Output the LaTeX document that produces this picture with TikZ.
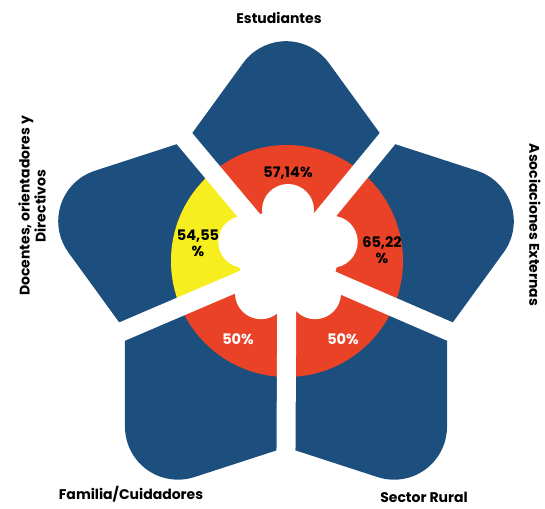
\documentclass[tikz,border=0pt]{standalone}
\usepackage{fontspec}
\setmainfont{Poppins}
\usetikzlibrary{calc}
\definecolor{petalblue}{RGB}{28,79,126}
\definecolor{ringred}{RGB}{233,66,39}
\definecolor{ringyel}{RGB}{246,238,30}
\begin{document}
\begin{tikzpicture}[x=1pt,y=1pt,
  lbl/.style={font=\bfseries\fontsize{14}{13}\selectfont, text=black, align=center, inner sep=0pt},
  pct/.style={font=\bfseries\fontsize{14.5}{16}\selectfont, align=center, inner sep=0pt},
  gap/.style={white, line width=19pt}]
\useasboundingbox (0,0) rectangle (545,508);
\coordinate (S) at (286,230);
\coordinate (O) at (287,247);
\coordinate (B) at (288,252);
\foreach \v in {54,126,198,270,342} \coordinate (V\v) at ($(S)+(\v:169.3)$);
% star of five petals
\fill[petalblue] (V54) \foreach \a in {90,162,234,306,378} {
  -- ($(S)+(\a:183.8)+(\a-54:53)$) arc[start angle=\a-54, end angle=\a+54, radius=53]
  -- ($(S)+(\a+36:169.3)$) } -- cycle;
% ring
\fill[ringred] (O) circle[radius=116];
\begin{scope}
  \clip (O) -- ($(O)!3!(V126)$) -- ($(O)!3!(V198)$) -- cycle;
  \fill[ringyel] (O) circle[radius=116];
\end{scope}
% gaps
\foreach \v in {54,126,198,270,342} \draw[gap] (O) -- ($(O)!1.25!(V\v)$);
% centre blob
\fill[white] (B) circle[radius=50];
\foreach \a in {90,162,234,306,18} \fill[white] ($(B)+(\a:46)$) circle[radius=26];
% percentages
\node[pct] (p1) at (288,335) {57,14\%};
\node[pct] (p2) at (198,265) {54,55\\\%};
\node[pct] (p3) at (382,258) {65,22\\\%};
\node[pct, text=white] (p4) at (238,169) {50\%};
\node[pct, text=white] (p5) at (343,169) {50\%};
% outer labels
\node[lbl] (l1) at (279,490) {Estudiantes};
\node[lbl, rotate=90] (l2) at (32,302) {Docentes, orientadores y\\Directivos};
\node[lbl, rotate=-90] (l3) at (535,283) {Asociaciones Externas};
\node[lbl] (l4) at (131,14) {Familia/Cuidadores};
\node[lbl] (l5) at (424,11) {Sector Rural};
\end{tikzpicture}
\end{document}
